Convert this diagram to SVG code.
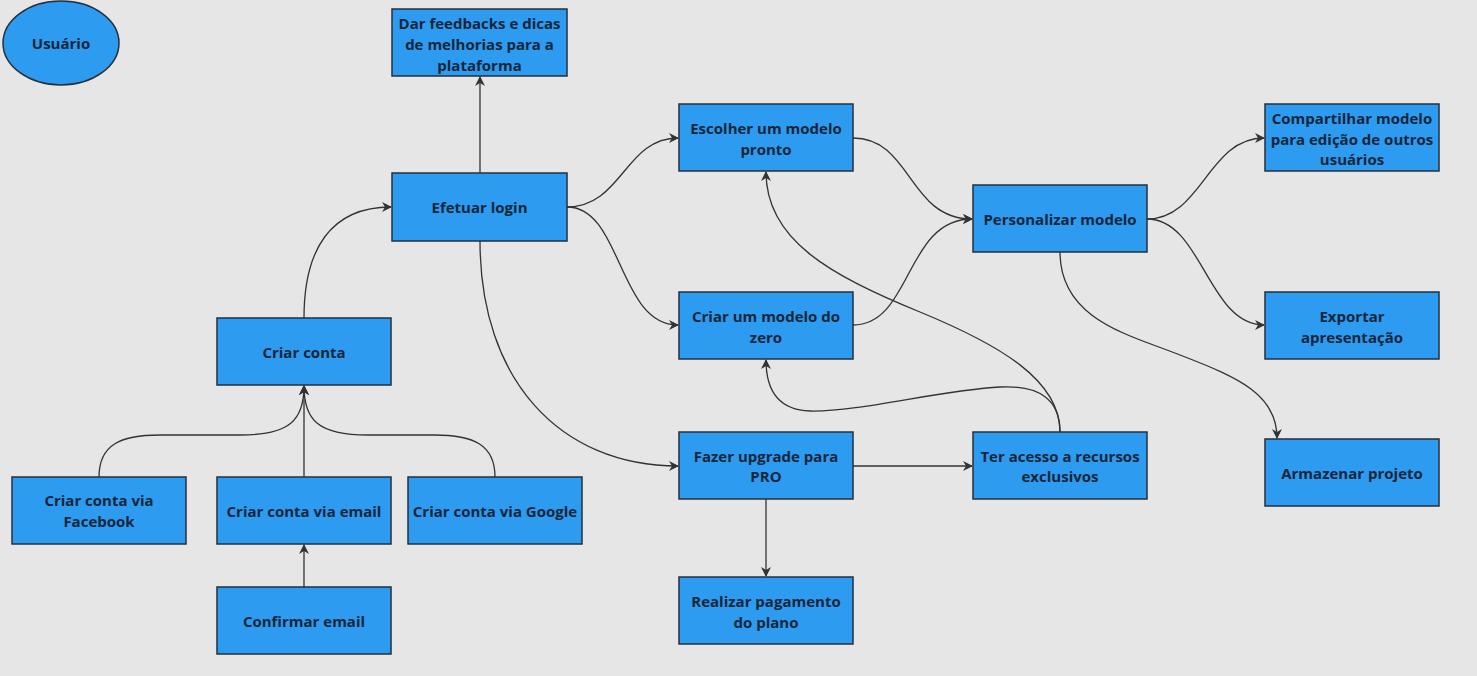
<svg xmlns="http://www.w3.org/2000/svg" width="1477" height="676" viewBox="0 0 1477 676">
<style>
.n rect, .n ellipse { fill: #2d9bf0; stroke: #25303c; stroke-width: 1.5; }
.n text { font-family: "Open Sans", "Noto Sans", sans-serif; font-weight: 700; font-size: 15px; fill: #15263a; text-anchor: middle; dominant-baseline: central; }
.c path { fill: none; stroke: #333; stroke-width: 1.3; marker-end: url(#arr); }
</style>
<defs>
<marker id="arr" viewBox="0 0 10 10" refX="9" refY="5" markerWidth="10" markerHeight="10" markerUnits="userSpaceOnUse" orient="auto">
<path d="M0,0 L10,5 L0,10 L3,5 z" fill="#333"/>
</marker>
</defs>
<rect x="0" y="0" width="1477" height="676" fill="#e6e6e6"/>
<g class="c" id="connectors">
<path d="M480,173 L480,77"/>
<path d="M304,318 C304,250 330,207 391,207"/>
<path d="M99,477 C99,445 120,435 160,435 L240,435 C290,435 304,420 304,386"/>
<path d="M304,477 L304,386"/>
<path d="M495,477 C495,445 474,435 434,435 L368,435 C318,435 304,420 304,386"/>
<path d="M304,587 L304,545"/>
<path d="M567,207 C622,207 625,138 678,138"/>
<path d="M567,207 C622,207 618,325 678,325"/>
<path d="M480,241 C480,380 560,466 678,466"/>
<path d="M853,138 C912,138 908,219 972,219"/>
<path d="M853,325 C912,325 905,219 972,219"/>
<path d="M853,466 L972,466"/>
<path d="M766,499 L766,576"/>
<path d="M1060,432 C1060,380 1000,345 920,312 C830,275 766,240 766,172"/>
<path d="M1060,432 C1060,400 1040,385 1000,387 C940,390 860,412 810,411 C780,410 766,392 766,360"/>
<path d="M1147,219 C1202,219 1208,138 1264,138"/>
<path d="M1147,219 C1202,219 1208,325 1264,325"/>
<path d="M1060,252 C1060,320 1130,335 1180,355 C1240,378 1277,395 1277,438"/>
</g>
<g class="n" id="usuario"><ellipse cx="61" cy="43" rx="58" ry="42"/><text x="61" y="43">Usuário</text></g>
<g class="n" id="feedback"><rect x="392" y="9" width="175" height="67"/><text x="479.5" y="23">Dar feedbacks e dicas</text><text x="479.5" y="44">de melhorias para a</text><text x="479.5" y="65">plataforma</text></g>
<g class="n" id="login"><rect x="392" y="173" width="175" height="68"/><text x="479.5" y="207">Efetuar login</text></g>
<g class="n" id="criar-conta"><rect x="217" y="318" width="174" height="67"/><text x="304" y="352">Criar conta</text></g>
<g class="n" id="facebook"><rect x="12" y="477" width="174" height="67"/><text x="99" y="500">Criar conta via</text><text x="99" y="521">Facebook</text></g>
<g class="n" id="email"><rect x="217" y="477" width="174" height="67"/><text x="304" y="511">Criar conta via email</text></g>
<g class="n" id="google"><rect x="408" y="477" width="174" height="67"/><text x="495" y="511">Criar conta via Google</text></g>
<g class="n" id="confirmar"><rect x="217" y="587" width="174" height="67"/><text x="304" y="621">Confirmar email</text></g>
<g class="n" id="escolher"><rect x="679" y="104" width="174" height="67"/><text x="766" y="128">Escolher um modelo</text><text x="766" y="149">pronto</text></g>
<g class="n" id="zero"><rect x="679" y="292" width="174" height="67"/><text x="766" y="316">Criar um modelo do</text><text x="766" y="337">zero</text></g>
<g class="n" id="upgrade"><rect x="679" y="432" width="174" height="67"/><text x="766" y="456">Fazer upgrade para</text><text x="766" y="476">PRO</text></g>
<g class="n" id="pagamento"><rect x="679" y="577" width="174" height="67"/><text x="766" y="601">Realizar pagamento</text><text x="766" y="622">do plano</text></g>
<g class="n" id="personalizar"><rect x="973" y="185" width="174" height="67"/><text x="1060" y="219">Personalizar modelo</text></g>
<g class="n" id="recursos"><rect x="973" y="432" width="174" height="67"/><text x="1060" y="456">Ter acesso a recursos</text><text x="1060" y="476">exclusivos</text></g>
<g class="n" id="compartilhar"><rect x="1265" y="104" width="174" height="67"/><text x="1352" y="118">Compartilhar modelo</text><text x="1352" y="139">para edição de outros</text><text x="1352" y="159">usuários</text></g>
<g class="n" id="exportar"><rect x="1265" y="292" width="174" height="67"/><text x="1352" y="316">Exportar</text><text x="1352" y="337">apresentação</text></g>
<g class="n" id="armazenar"><rect x="1265" y="439" width="174" height="67"/><text x="1352" y="473">Armazenar projeto</text></g>
</svg>
